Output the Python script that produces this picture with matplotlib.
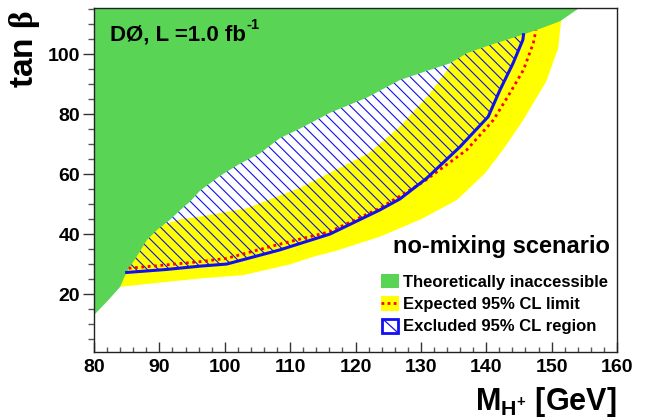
import numpy as np
import matplotlib
matplotlib.use('Agg')
import matplotlib.pyplot as plt
from matplotlib.patches import Patch, Rectangle
from matplotlib.lines import Line2D
from matplotlib.legend_handler import HandlerBase
from matplotlib.ticker import MultipleLocator
from matplotlib.transforms import offset_copy

# ---------------- data ----------------
# theoretically inaccessible region: lower-right boundary (region lies above/left)
green_mass = [80, 82.2, 84, 85, 86.5, 88.1, 89.6, 91.6, 93.2, 94.7, 96.2, 99.3,
              102.3, 105.4, 108.4, 111.5, 116.1, 121.7, 126.8, 131, 134.5, 137,
              140.5, 144.7, 148, 151.3, 154.3]
green_tanb = [13.1, 18.1, 22.5, 27.5, 32.5, 38.1, 41.4, 44.8, 48.1, 50.9, 54.5, 59.5,
              63.5, 67, 72, 75.2, 80.5, 85.5, 91.4, 94.5, 97, 100.3,
              103, 105.9, 108.3, 111, 115.5]

# expected limit +-1 sigma band (yellow): lower and upper edges
band_lo_mass = [84, 90, 96.2, 102.8, 110, 113.5, 117, 123.7, 130, 135.5, 139.8, 142.5,
                145.5, 149.2, 151, 151.5]
band_lo_tanb = [22.5, 23.9, 25.3, 26.4, 30, 32.5, 34.5, 39.2, 45, 51.4, 60.3, 68,
                77.5, 91, 102, 112]
band_hi_mass = [84, 86, 88.5, 90.4, 93.2, 96.2, 103.4, 111.5, 117, 122, 126.8, 131.4,
                135.5, 138, 141, 151.5]
band_hi_tanb = [24.8, 32, 40, 43.1, 45, 45.9, 48.7, 55.5, 61.5, 67, 75.9, 87,
                99.2, 106, 112, 114]

# observed 95% CL exclusion contour (blue)
obs_mass = [85, 91.1, 96.2, 100.3, 108.4, 116.1, 123.7, 126.8, 130.9, 136, 140.3,
            142.1, 144.1, 145.6, 145.7]
obs_tanb = [27.3, 28.3, 29.4, 30.1, 34.8, 40.1, 48.1, 51.8, 58.7, 69.2, 79.2,
            88.1, 97, 104.8, 106.5]

# expected 95% CL limit (red dotted)
exp_mass = [85.3, 90, 96.2, 100.3, 108, 116.1, 123.7, 130.4, 133.5, 137, 141.1,
            143.6, 145.7, 147.2, 147.6]
exp_tanb = [28.7, 29.6, 30.9, 32, 36.5, 40.9, 48.7, 57.5, 62.5, 68.1, 78.1,
            87, 94.8, 103.7, 108]

x_range = (80, 160)
y_range = (0.9, 115.4)

legend_labels = ["Theoretically inaccessible", "Expected 95% CL limit",
                 "Excluded 95% CL region"]

# ---------------- style ----------------
GREEN = '#59D454'
YELLOW = '#FFFF00'
BLUE = '#1010F0'
RED = '#FF0000'

plt.rcParams['font.family'] = ['Liberation Sans', 'DejaVu Sans']
plt.rcParams['font.weight'] = 'bold'
plt.rcParams['mathtext.fontset'] = 'custom'
plt.rcParams['mathtext.rm'] = 'Liberation Sans:bold'
plt.rcParams['mathtext.bf'] = 'Liberation Sans:bold'
plt.rcParams['mathtext.it'] = 'Liberation Sans:bold:italic'
plt.rcParams['mathtext.sf'] = 'Liberation Serif'
plt.rcParams['hatch.linewidth'] = 0.8

W, H = 646, 420
fig = plt.figure(figsize=(W / 100, H / 100), dpi=100)
ax = fig.add_axes([94 / W, (H - 351.7) / H, (617 - 94) / W, (351.7 - 8) / H])

ax.set_xlim(*x_range)
ax.set_ylim(*y_range)
ytop = y_range[1]

# yellow band
ax.fill(np.concatenate([band_lo_mass, band_hi_mass[::-1]]),
        np.concatenate([band_lo_tanb, band_hi_tanb[::-1]]),
        facecolor=YELLOW, edgecolor='none', zorder=1)

# hatched excluded region (above observed contour)
ax.fill_between(obs_mass, obs_tanb, ytop, facecolor='none', edgecolor=BLUE,
                linewidth=0, hatch='\\\\\\', zorder=2)

# green theoretically inaccessible
ax.fill_between(green_mass, green_tanb, ytop + 5, facecolor=GREEN,
                edgecolor='none', zorder=3)

# contours
ax.plot(exp_mass, exp_tanb, color=RED, lw=2.0, linestyle=(0, (1, 1.3)), zorder=4)
ax.plot(obs_mass, obs_tanb, color=BLUE, lw=2.2, zorder=5, solid_joinstyle='round')

# axes styling
for s in ax.spines.values():
    s.set_linewidth(1.0)
    s.set_color('#222222')
    s.set_zorder(6)
ax.xaxis.set_major_locator(MultipleLocator(10))
ax.xaxis.set_minor_locator(MultipleLocator(2))
ax.yaxis.set_major_locator(MultipleLocator(20))
ax.yaxis.set_minor_locator(MultipleLocator(5))
ax.tick_params(axis='x', which='major', direction='in', length=7.2, width=1,
               labelsize=14, pad=5.5, color='#333333')
ax.tick_params(axis='x', which='minor', direction='in', length=3.6, width=1,
               color='#555555')
ax.tick_params(axis='y', which='major', direction='out', length=7.7, width=1,
               labelsize=14, pad=2.2, color='#333333')
ax.tick_params(axis='y', which='minor', direction='out', length=4.0, width=1,
               color='#555555')
ax.set_axisbelow(False)
for lab in ax.get_xticklabels() + ax.get_yticklabels():
    lab.set_fontweight('bold')

# axis titles
fig.text(617 / W, 1 - 410 / H, r"M$_{\mathrm{H^{+}}}$ [GeV]", ha='right',
         va='baseline', fontsize=22, fontweight='bold')
fig.text(24 / W, 1 - 10 / H, r"tan $\mathsf{\beta}$", rotation=90, ha='center',
         va='top', fontsize=24, fontweight='bold')

# experiment label with small superscript
main = ax.text(16 / 523, (351.7 - 40) / 343.7, "DØ, L =1.0 fb",
               transform=ax.transAxes, ha='left', va='baseline', fontsize=16,
               fontweight='bold', zorder=7)
fig.canvas.draw()
bb = main.get_window_extent()
x_end, y_base = ax.transAxes.inverted().transform((bb.x1, 0))[0], (351.7 - 40) / 343.7
ax.text(x_end, y_base, "-1",
        transform=offset_copy(ax.transAxes, fig=fig, x=0.5, y=8, units='points'),
        ha='left', va='baseline', fontsize=10.5, fontweight='bold', zorder=7)

fig.text(610 / W, 1 - 253.3 / H, "no-mixing scenario", ha='right', va='baseline',
         fontsize=17, fontweight='bold')


class HatchBoxHandler(HandlerBase):
    def create_artists(self, legend, orig_handle, xdescent, ydescent, width,
                       height, fontsize, trans):
        x0, y0 = -xdescent, -ydescent
        rect = Rectangle((x0 + 1, y0), width - 2, height, facecolor='white',
                         edgecolor=orig_handle.get_edgecolor(), lw=2,
                         transform=trans)
        diag = Line2D([x0 + 2, x0 + width - 2], [y0 + height - 1, y0 + 1],
                      color=orig_handle.get_edgecolor(), lw=0.9, transform=trans)
        return [rect, diag]


h_green = Patch(facecolor=GREEN, edgecolor='none')
h_exp = (Patch(facecolor=YELLOW, edgecolor='none'),
         Line2D([], [], color=RED, lw=2.0, linestyle=(0, (1, 1.2))))
h_obs = Patch(facecolor='white', edgecolor=BLUE)

fig.legend([h_green, h_exp, h_obs], legend_labels,
           handler_map={h_obs: HatchBoxHandler()},
           loc='upper left', bbox_to_anchor=(381 / W, 1 - 274 / H),
           frameon=False, borderpad=0, borderaxespad=0,
           handlelength=1.1, handleheight=0.95, handletextpad=0.2,
           labelspacing=0.38, prop={'weight': 'bold', 'size': 12})

fig.savefig('out.png', dpi=100)
